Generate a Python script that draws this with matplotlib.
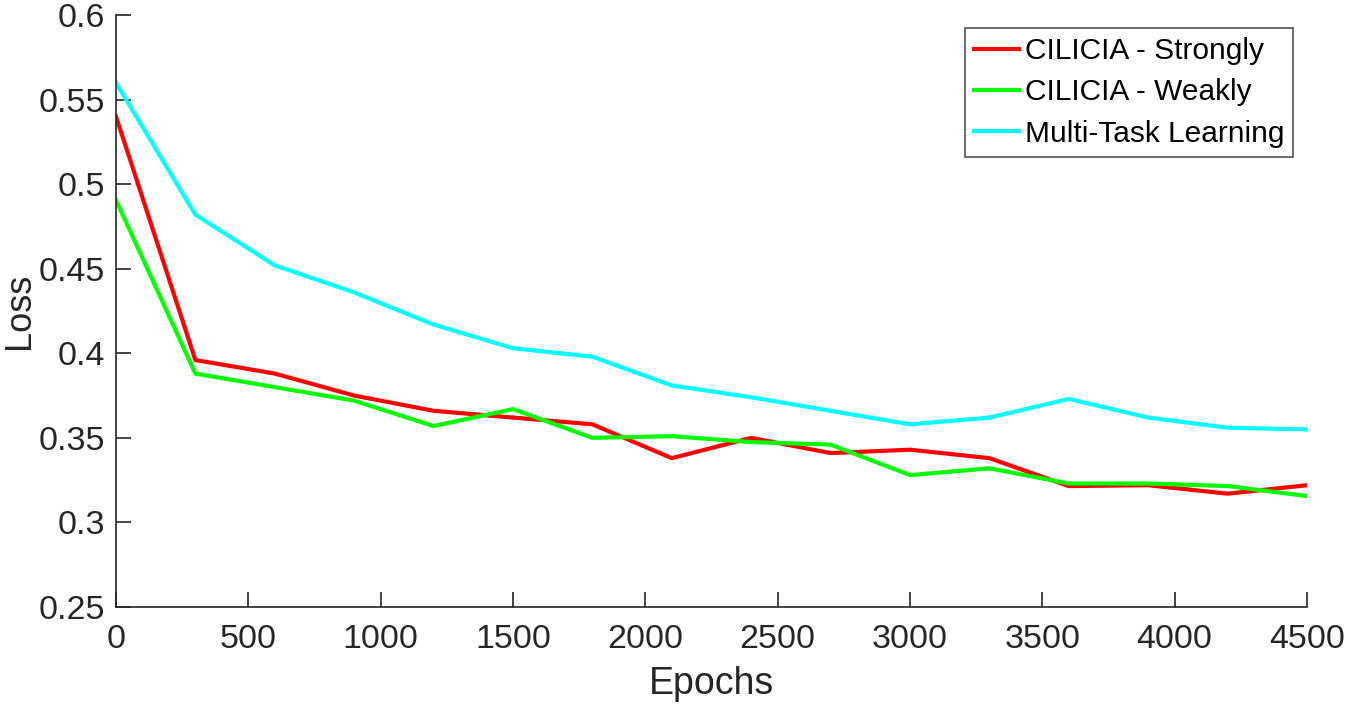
import numpy as np
import matplotlib.pyplot as plt

plt.rcParams['font.family'] = ['Liberation Sans', 'DejaVu Sans']

epochs = np.arange(0, 4501, 300)

strongly = [0.540, 0.396, 0.388, 0.375, 0.366, 0.362, 0.358, 0.338, 0.350,
            0.341, 0.343, 0.338, 0.3215, 0.322, 0.317, 0.322]
weakly = [0.4906, 0.388, 0.380, 0.372, 0.357, 0.367, 0.350, 0.351, 0.3475,
          0.346, 0.328, 0.332, 0.323, 0.323, 0.3215, 0.3156]
multitask = [0.560, 0.482, 0.452, 0.436, 0.417, 0.403, 0.398, 0.381, 0.374,
             0.366, 0.358, 0.362, 0.373, 0.362, 0.356, 0.355]

gray = '#262626'

fig = plt.figure(figsize=(13.46, 7.10), dpi=100)
ax = fig.add_axes([116/1346, 1 - 607/710, (1307 - 116)/1346, (607 - 15)/710])

ax.plot(epochs, strongly, color='#ff0000', lw=3, label='CILICIA - Strongly')
ax.plot(epochs, weakly, color='#00ff00', lw=3, label='CILICIA - Weakly')
ax.plot(epochs, multitask, color='#00ffff', lw=3, label='Multi-Task Learning')

ax.set_xlim(0, 4500)
ax.set_ylim(0.25, 0.6)
ax.set_xticks(np.arange(0, 4501, 500))
ax.set_yticks([0.25, 0.3, 0.35, 0.4, 0.45, 0.5, 0.55, 0.6])
ax.set_yticklabels(['0.25', '0.3', '0.35', '0.4', '0.45', '0.5', '0.55', '0.6'])

for s in ['top', 'right']:
    ax.spines[s].set_visible(False)
for s in ['left', 'bottom']:
    ax.spines[s].set_color(gray)
    ax.spines[s].set_linewidth(1.2)

ax.tick_params(direction='in', length=11, width=1.2, color=gray,
               labelcolor=gray, labelsize=24.5)
ax.tick_params(axis='x', pad=12)
ax.tick_params(axis='y', pad=8)

ax.set_xlabel('Epochs', fontsize=27, color=gray, labelpad=8)
ax.set_ylabel('Loss', fontsize=26, color=gray)
ax.yaxis.set_label_coords(-0.066, 0.5)

leg = ax.legend(loc='upper right', bbox_to_anchor=(1293/1346, 1 - 28/710),
                bbox_transform=fig.transFigure, fontsize=21.5, frameon=True,
                fancybox=False, handlelength=1.5, handletextpad=0.2,
                borderpad=0.3, labelspacing=0.45, borderaxespad=0)
leg.get_frame().set_edgecolor(gray)
leg.get_frame().set_linewidth(1.2)

fig.savefig('out.png', dpi=100)
